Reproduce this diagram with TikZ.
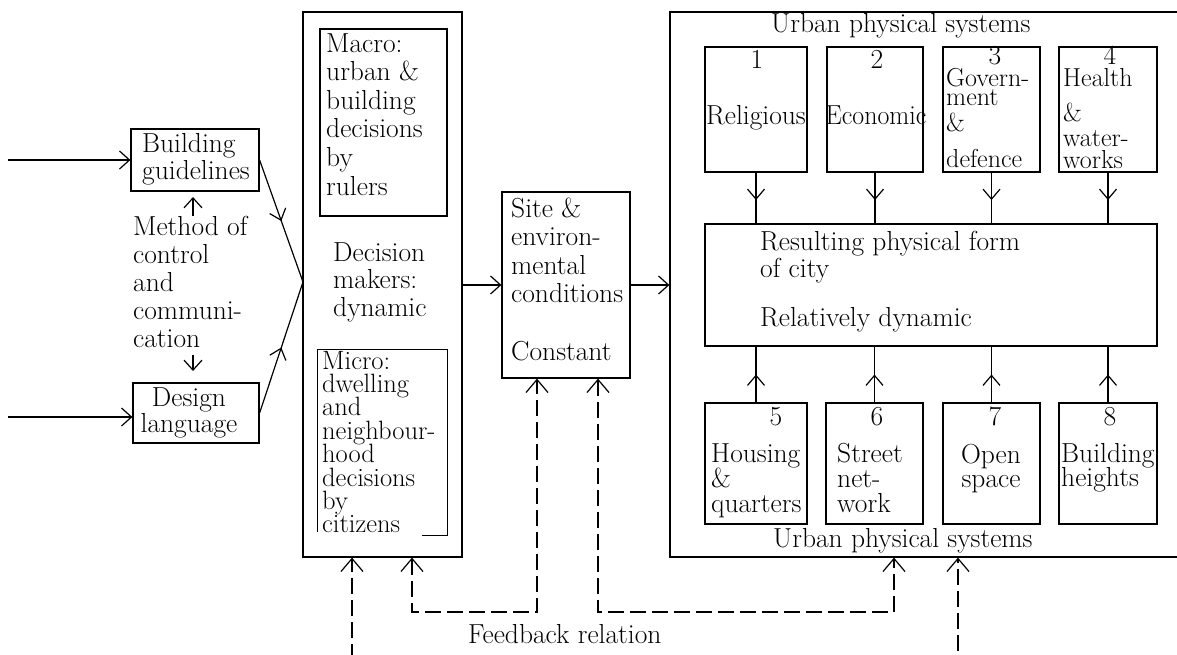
\documentclass[tikz,border=0pt]{standalone}
\usetikzlibrary{arrows.meta,decorations.markings,fit,calc}
\newcommand\fsz[1]{\fontsize{27.5}{#1}\selectfont}
\newcommand\fsm[1]{\fontsize{26}{#1}\selectfont}
\newcommand\ptl[2][220pt]{\parbox[t]{#1}{\lineskiplimit=-30pt\raggedright #2}}
\newcommand\ptc[2][220pt]{\parbox[t]{#1}{\lineskiplimit=-30pt\centering #2}}
\begin{document}
\begin{tikzpicture}[x=1pt,y=-1pt,
  ln/.style={line width=1.2pt},
  box/.style={draw, line width=1.2pt, inner sep=0pt},
  tx/.style={inner sep=0pt, anchor=base west, font=\fsz{28}},
  tc/.style={inner sep=0pt, anchor=base, font=\fsz{28}},
  arr/.style={line width=1.2pt, -{Straight Barb[length=10pt,width=18pt]}},
  fbone/.style={line width=1.2pt, dash pattern=on 16pt off 6pt, -{Straight Barb[length=13pt,width=22pt]}},
  fbtwo/.style={line width=1.2pt, dash pattern=on 16pt off 6pt, {Straight Barb[length=13pt,width=22pt]}-{Straight Barb[length=13pt,width=22pt]}},
  midarr/.style={postaction={decorate}, decoration={markings, mark=at position #1 with {\arrow{Straight Barb[length=10pt,width=17pt]}}}},
  midarr/.default=0.5]
\fill[white] (0,0) rectangle (1177,654);
\useasboundingbox (0,0) rectangle (1177,654);
\clip (0,0) rectangle (1177,654);

% boxes
\node[box, fit={(131,129) (259,191)}] (bg) {};
\node[box, fit={(133,383) (259,443)}] (dl) {};
\node[box, fit={(303,12) (462,557)}] (dm) {};
\node[box, fit={(320,29) (447,216)}] (macro) {};
\node[inner sep=0pt, fit={(318,350) (447,535)}] (micro) {};
\draw[ln] ($(micro.south west)+(0,-3)$) -- (micro.north west) -- (micro.north east) -- (micro.south east) -- ($(micro.south east)+(-25,0)$);
\node[box, fit={(502,192) (630,378)}] (site) {};
\node[box, fit={(670,12) (1200,557)}] (urb) {};
\node[box, fit={(705,47) (807,172)}] (s1) {};
\node[box, fit={(827,47) (923,172)}] (s2) {};
\node[box, fit={(943,47) (1040,172)}] (s3) {};
\node[box, fit={(1059,47) (1157,172)}] (s4) {};
\node[box, fit={(705,224) (1157,346)}] (res) {};
\node[box, fit={(705,403) (807,524)}] (s5) {};
\node[box, fit={(826,403) (923,524)}] (s6) {};
\node[box, fit={(943,403) (1040,524)}] (s7) {};
\node[box, fit={(1059,403) (1157,524)}] (s8) {};

% texts
\node[tx, font=\fsz{27}] (tbg) at (142,152) {\ptl{Building\\guidelines}};
\node[tc, font=\fsz{26}] (tdl) at (189,406) {\ptc[126pt]{Design\\language}};
\node[tx, font=\fsz{28.2}] (tmeth) at (133,235) {\ptl{Method of\\control\\and\\communi-\\cation}};
\node[tx, font=\fsz{28.6}] (tmac) at (326,52) {\ptl{Macro:\\urban \&\\building\\decisions\\by\\rulers}};
\node[tx, font=\fsz{27.5}] (tdec) at (333,261) {\ptl{Decision\\makers:\\dynamic}};
\node[tx, font={\fontsize{26.5}{23.4}\selectfont}] (tmic) at (322,369) {\ptl{Micro:\\dwelling\\and\\neighbour-\\hood\\decisions\\by\\citizens}};
\node[tx, font=\fsz{28.6}] (tsite) at (511,217) {\ptl{Site \&\\environ-\\mental\\conditions\\[28.6pt]Constant}};
\node[tx] (tut) at (771,32) {Urban physical systems};
\node[tx] (tub) at (773,547) {Urban physical systems};
\node[tc] (n1) at (757,68) {1};
\node[tc] (n2) at (877,68) {2};
\node[tc] (n3) at (995,64) {3};
\node[tc] (n4) at (1110,64) {4};
\node[tc] (l1) at (756,124) {Religious};
\node[tc] (l2) at (876,124) {\scalebox{0.94}[1]{Economic}};
\node[tx, font=\fsm{20}] (l3) at (946,86) {\ptl{Govern-\\[-1pt]ment\\[6pt]\&\\[16pt]defence}};
\node[tx, font=\fsm{20}] (l4) at (1063,86) {\ptl{Health\\[15pt]\&\\[5pt]water-\\[2pt]works}};
\node[tx, font=\fsz{27}] (tres) at (760,250) {\ptl[320pt]{Resulting physical form\\of city\\[22pt]Relatively dynamic}};
\node[tc] (n5) at (776,425) {5};
\node[tc] (n6) at (877,425) {6};
\node[tc] (n7) at (995,425) {7};
\node[tc] (n8) at (1110,425) {8};
\node[tx, font=\fsz{25}] (l5) at (711,462) {\ptl{Housing\\\&\\quarters}};
\node[tx, font=\fsz{25}] (l6) at (837,462) {\ptl{Street\\net-\\work}};
\node[tc, font=\fsz{24}] (l7) at (991,463) {\ptc[100pt]{Open\\space}};
\node[tx, font=\fsz{24}] (l8) at (1061,462) {\ptl{Building\\heights}};
\node[tx] (tfb) at (468,643) {Feedback relation};

% coordinates
\coordinate (in1) at (8,160);
\coordinate (in2) at (8,417);
\coordinate (cv) at (303,282);
\coordinate (mu1) at (193,216);
\coordinate (mu2) at (193,197);
\coordinate (md1) at (193,355);
\coordinate (md2) at (193,371);
\coordinate (f1) at (352,660);
\coordinate (f2a) at (412,612);
\coordinate (f2b) at (537,612);
\coordinate (f3a) at (598,612);
\coordinate (f3b) at (894,612);
\coordinate (f4) at (958,651);

% connectors
\draw[arr] (in1) -- (bg.west |- in1);
\draw[arr] (in2) -- (dl.west |- in2);
\draw[ln, midarr=0.5] (bg.east) -- (cv);
\draw[ln, midarr=0.5] (dl.east) -- (cv);
\draw[arr] (mu1) -- (mu2);
\draw[arr] (md1) -- (md2);
\draw[arr] (dm.east |- site.west) -- (site.west);
\draw[arr] (site.east) -- (urb.west |- site.east);
\foreach \s in {s1,s2,s3,s4}
  \draw[ln, midarr=0.54] (\s.south) -- (res.north -| \s.south);
\foreach \s in {s5,s6,s7,s8}
  \draw[ln, midarr=0.5] (\s.north) -- (res.south -| \s.north);
\draw[fbone] (f1) -- (dm.south -| f1);
\draw[fbtwo] (dm.south -| f2a) -- (f2a) -- (f2b) -- (site.south -| f2b);
\draw[fbtwo] (site.south -| f3a) -- (f3a) -- (f3b) -- (urb.south -| f3b);
\draw[fbone] (f4) -- (urb.south -| f4);
\end{tikzpicture}
\end{document}
